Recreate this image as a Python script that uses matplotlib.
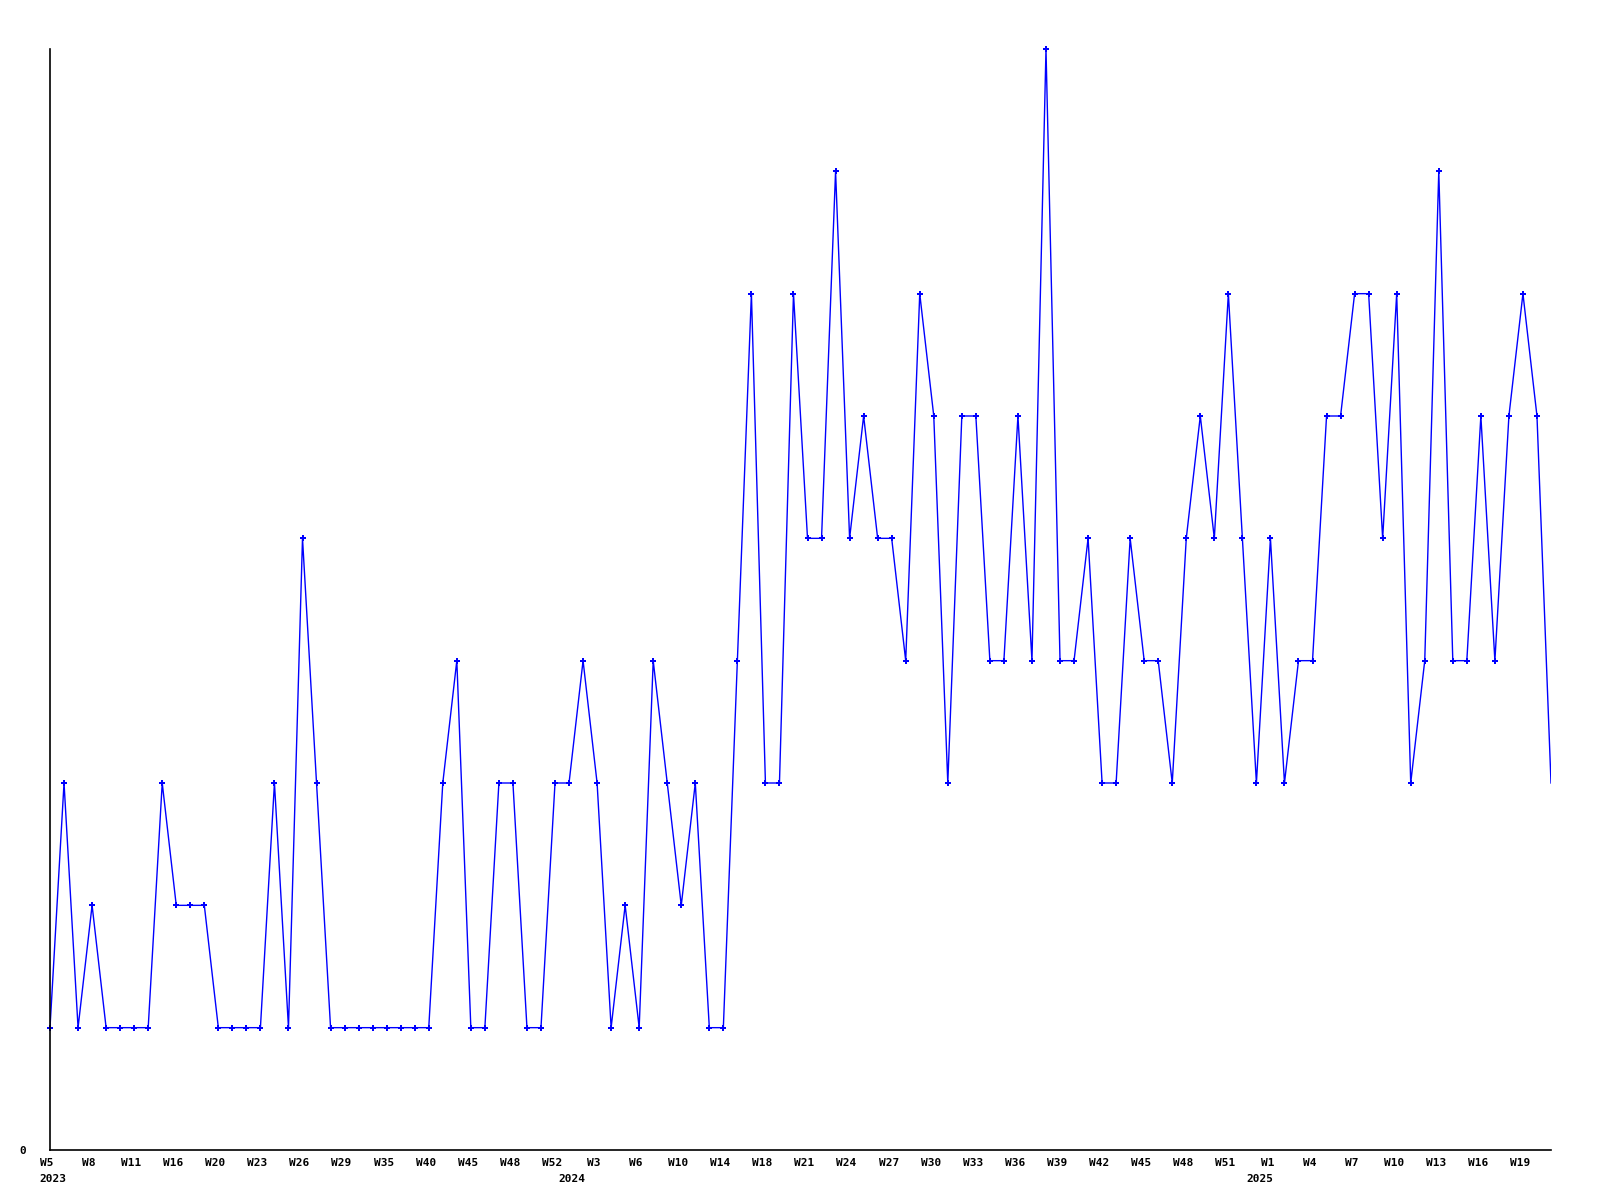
import matplotlib
matplotlib.use("Agg")
import matplotlib.pyplot as plt
import matplotlib.transforms as mtransforms

# ---- data ----
values = [1, 3, 1, 2, 1, 1, 1, 1, 3, 2, 2, 2, 1, 1, 1, 1, 3, 1, 5, 3,
          1, 1, 1, 1, 1, 1, 1, 1, 3, 4, 1, 1, 3, 3, 1, 1, 3, 3, 4, 3,
          1, 2, 1, 4, 3, 2, 3, 1, 1, 4, 7, 3, 3, 7, 5, 5, 8, 5, 6, 5,
          5, 4, 7, 6, 3, 6, 6, 4, 4, 6, 4, 9, 4, 4, 5, 3, 3, 5, 4, 4,
          3, 5, 6, 5, 7, 5, 3, 5, 3, 4, 4, 6, 6, 7, 7, 5, 7, 3, 4, 8,
          4, 4, 6, 4, 6, 7, 6, 3]

tick_labels = ["W5", "W8", "W11", "W16", "W20", "W23", "W26", "W29", "W35",
               "W40", "W45", "W48", "W52", "W3", "W6", "W10", "W14", "W18",
               "W21", "W24", "W27", "W30", "W33", "W36", "W39", "W42", "W45",
               "W48", "W51", "W1", "W4", "W7", "W10", "W13", "W16", "W19"]
tick_index = list(range(0, 108, 3))

year_labels = ["2023", "2024", "2025"]
year_index = [0, 37, 86]

# ---- figure ----
fig = plt.figure(figsize=(16, 12), dpi=100)
ax = fig.add_axes([50 / 1600, 50 / 1200, 1501 / 1600, 1101 / 1200])

x = list(range(len(values)))
ax.plot(x, values, color="#0000ff", lw=1.0, solid_joinstyle="miter")
ax.plot(x[:-1], values[:-1], linestyle="none", marker="P", markersize=4.5,
        markeredgewidth=0, color="#0000ff", clip_on=False)

ax.set_xlim(0, len(values) - 1)
ax.set_ylim(0, 9)

for s in ["top", "right"]:
    ax.spines[s].set_visible(False)
for s in ["left", "bottom"]:
    ax.spines[s].set_linewidth(1.2)
    ax.spines[s].set_color("black")

font = dict(family="DejaVu Sans Mono", weight="bold", size=8)

ax.set_yticks([0])
ax.set_yticklabels(["0"], **font)
ax.tick_params(axis="y", length=0, pad=17)

ax.set_xticks(tick_index)
ax.set_xticklabels(tick_labels, **font)
ax.tick_params(axis="x", length=0, pad=6)
shift = mtransforms.ScaledTranslation(-3 / 100, 0, fig.dpi_scale_trans)
for lbl in ax.get_xticklabels():
    lbl.set_transform(lbl.get_transform() + shift)

trans = mtransforms.blended_transform_factory(ax.transData, ax.transAxes)
for yi, yl in zip(year_index, year_labels):
    ax.text(yi, 0, yl, transform=trans + mtransforms.ScaledTranslation(3 / 100, -24 / 100, fig.dpi_scale_trans),
            ha="center", va="top", **font)

fig.savefig("out.png", dpi=100, facecolor="white")
